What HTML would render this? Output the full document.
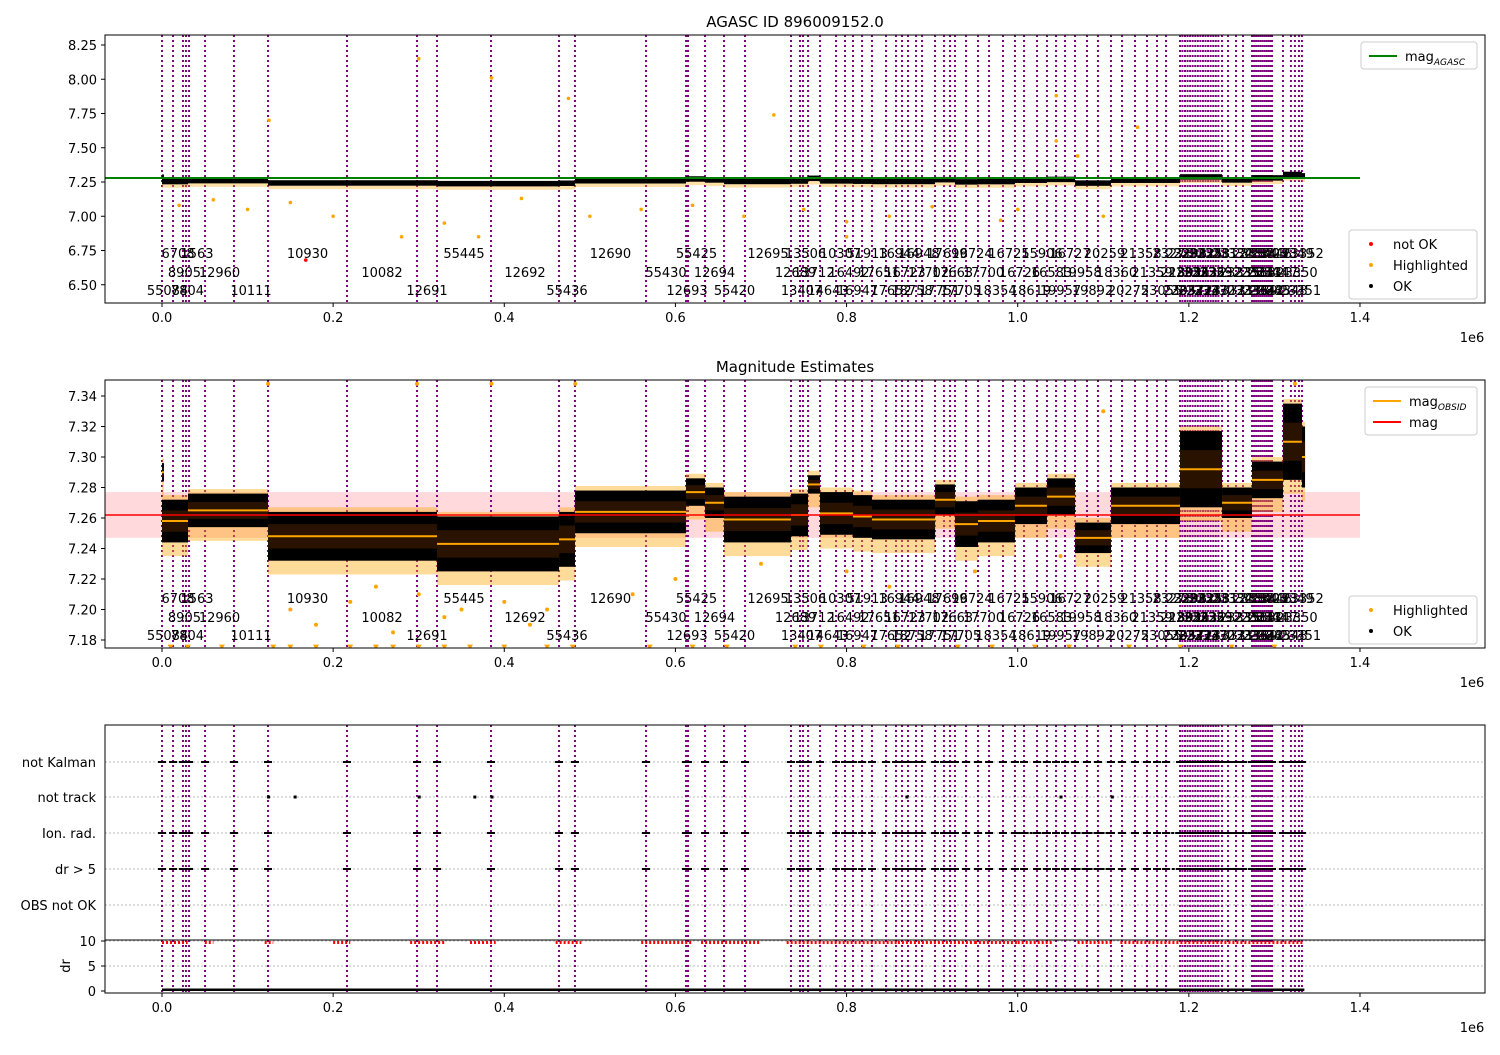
<!DOCTYPE html>
<html><head><meta charset="utf-8"><style>
body{margin:0;background:#fff;}
svg text{font-family:"DejaVu Sans","Liberation Sans",sans-serif;fill:#000;}
</style></head><body>
<svg id="c" width="1500" height="1050" xmlns="http://www.w3.org/2000/svg"></svg>
<script>
const obsStart=[0.0000,0.0129,0.0245,0.0280,0.0316,0.0503,0.0841,0.1239,0.2162,0.2980,0.3214,0.3845,0.4640,0.4826,0.5656,0.6124,0.6147,0.6346,0.6568,0.6813,0.7351,0.7456,0.7491,0.7550,0.7690,0.7877,0.7982,0.8075,0.8181,0.8297,0.8461,0.8578,0.8648,0.8718,0.8812,0.8882,0.9034,0.9139,0.9209,0.9267,0.9396,0.9536,0.9665,0.9828,0.9968,1.0074,1.0226,1.0342,1.0448,1.0553,1.0670,1.0810,1.0938,1.1090,1.1219,1.1371,1.1511,1.1628,1.1733,1.1897,1.1925,1.1955,1.1985,1.2015,1.2045,1.2075,1.2105,1.2135,1.2165,1.2195,1.2225,1.2255,1.2285,1.2315,1.2345,1.2388,1.2458,1.2551,1.2633,1.2738,1.2762,1.2786,1.2810,1.2834,1.2858,1.2882,1.2906,1.2930,1.2954,1.2972,1.3100,1.3193,1.3240,1.3287,1.3322];
const obsLabel=["55084","6708","8905","7804","1563","12960","10111","10930","10082","12691","55445","12692","55436","12690","55430","12693","55425","12694","55420","12695","12689","13407","13506","13712","14643","10307","16492","16947","51913","17651","17652","16944","16723","18758","16948","17702","17751","17699","17663","17705","16724","17700","18354","16725","16726","18619","15906","16583","19957","16727","19958","19892","20259","18360","20275","21358","21359","23055","23273","21892","23057","23296","23056","23321","23322","23323","23324","23325","23326","23327","23328","23329","23330","23331","23332","23333","23334","23335","23336","23337","23338","23339","23340","23341","23342","23343","23344","23345","23346","23347","23348","23349","23350","23351","23352"];
const segStart=[0.0000,0.0000,0.0304,0.1239,0.3214,0.4640,0.4826,0.6124,0.6346,0.6568,0.7351,0.7550,0.7690,0.8075,0.8297,0.9034,0.9267,0.9536,0.9968,1.0342,1.0670,1.1090,1.1897,1.2388,1.2738,1.3100,1.3322];
const segEnd=[0.0023,0.0304,0.1239,0.3214,0.4640,0.4826,0.6124,0.6346,0.6568,0.7351,0.7550,0.7690,0.8075,0.8297,0.9034,0.9267,0.9536,0.9968,1.0342,1.0670,1.1090,1.1897,1.2388,1.2738,1.3100,1.3322,1.3358];
const segMean=[7.290,7.258,7.265,7.248,7.243,7.246,7.264,7.277,7.270,7.259,7.262,7.282,7.263,7.261,7.259,7.272,7.256,7.258,7.268,7.274,7.247,7.268,7.292,7.270,7.285,7.310,7.300];
const segHalf=[0.006,0.014,0.011,0.016,0.018,0.018,0.014,0.009,0.010,0.015,0.014,0.006,0.014,0.014,0.013,0.010,0.015,0.014,0.012,0.012,0.010,0.012,0.025,0.010,0.012,0.025,0.020];
const magAgasc=7.279, magMean=7.262, magBandLo=7.247, magBandHi=7.277;
const p1HiT=[0.300,0.385,0.475,0.715,1.045,1.045,1.140,0.125,1.070,0.020,0.100,0.060,0.200,0.330,0.500,0.560,0.680,0.750,0.800,0.850,0.980,1.000,1.100,0.280,0.370,0.800,0.150,0.420,0.620,0.900];
const p1HiM=[8.15,8.01,7.86,7.74,7.88,7.55,7.65,7.70,7.44,7.08,7.05,7.12,7.00,6.95,7.00,7.05,7.00,7.05,6.96,7.00,6.97,7.05,7.00,6.85,6.85,6.85,7.10,7.13,7.08,7.07];
const p1BadT=[0.168], p1BadM=[6.68];
const p2HiT=[0.124,0.298,0.385,0.483,1.324,0.22,0.30,0.35,0.25,0.45,0.55,0.80,0.85,1.10,0.18,0.40,0.60,0.70,0.95,1.05,0.15,0.27,0.33,0.43];
const p2HiM=[7.348,7.348,7.348,7.348,7.348,7.205,7.210,7.200,7.215,7.200,7.210,7.225,7.215,7.330,7.190,7.205,7.220,7.230,7.225,7.235,7.200,7.185,7.195,7.190];
const p2LowT=[0.01,0.03,0.07,0.13,0.15,0.18,0.22,0.25,0.27,0.30,0.33,0.36,0.40,0.45,0.48,0.57,0.62,0.66,0.74,0.77,0.82,0.86,0.93,0.97,1.02,1.06,1.13,1.19,1.25,1.30];
const cats=["not Kalman","not track","Ion. rad.","dr > 5","OBS not OK"];
const notTrackT=[0.124,0.155,0.300,0.365,0.385,0.870,1.050,1.110];
const kalmanRunS=[1.19], kalmanRunE=[1.30];
const ionRunS=[1.00,1.07,1.17], ionRunE=[1.03,1.11,1.30];
const drRunS=[1.07,1.18], drRunE=[1.11,1.30];
const redRunS=[0.00,0.05,0.12,0.20,0.29,0.36,0.46,0.56,0.63,0.73,0.86,0.95,1.00,1.07,1.12];
const redRunE=[0.03,0.06,0.13,0.22,0.33,0.39,0.49,0.62,0.70,0.86,0.95,1.00,1.04,1.11,1.335];
const xTicks=[0,0.2,0.4,0.6,0.8,1.0,1.2,1.4];
const y1Ticks=[6.50,6.75,7.00,7.25,7.50,7.75,8.00,8.25];
const y2Ticks=[7.18,7.20,7.22,7.24,7.26,7.28,7.30,7.32,7.34];
const drTicks=[0,5,10];

const svg=document.getElementById('c');const NS='http://www.w3.org/2000/svg';
function mk(tag,at,parent,txt){const e=document.createElementNS(NS,tag);for(const k in at)e.setAttribute(k,at[k]);if(txt!==undefined)e.textContent=txt;(parent||svg).appendChild(e);return e;}
const L=105,R=1485;
const X=t=>162+t*855.7;
const Y1=m=>182-(m-7.25)*137;
const Y2=m=>396+(7.34-m)*1525;
const Yd=v=>991-v*5;
const catY=[762,797,833,869,905];
const panels=[{n:'magnitude-panel',t:35,b:303},{n:'estimates-panel',t:380,b:648},{n:'flags-panel',t:725,b:993}];
panels.forEach((p,pi)=>{
  const g=mk('g',{});
  const cid='clip'+pi;const cp=mk('clipPath',{id:cid},g);mk('rect',{x:L,y:p.t,width:R-L,height:p.b-p.t},cp);
  p.g=g;p.cg=mk('g',{'clip-path':'url(#'+cid+')'},g);
});
// panel 1
(function(){const p=panels[0],cg=p.cg;
 mk('text',{x:795,y:27,'font-size':15,'text-anchor':'middle'},p.g,'AGASC ID 896009152.0');
 obsStart.forEach(t=>{const l=mk('line',{x1:X(t),x2:X(t),y1:p.t,y2:p.b,stroke:'#800080','stroke-width':2,'stroke-dasharray':'2,3'},cg);});
 segMean.forEach((m,i)=>{const r=mk('rect',{x:X(segStart[i]),width:Math.max(1,X(segEnd[i])-X(segStart[i])),y:Y1(m-0.02),height:Y1(m-0.05)-Y1(m-0.02),fill:'orange',opacity:0.35},cg);
  const b=mk('rect',{x:X(segStart[i]),width:Math.max(1,X(segEnd[i])-X(segStart[i])),y:Y1(m+0.015),height:Y1(m-0.025)-Y1(m+0.015),fill:'#000'},cg);});
 const gl=mk('line',{x1:L,x2:X(1.4),y1:Y1(magAgasc),y2:Y1(magAgasc),stroke:'green','stroke-width':2},cg);
 p1HiT.forEach((t,i)=>{const c=mk('circle',{cx:X(t),cy:Y1(p1HiM[i]),r:1.8,fill:'orange'},cg);});
 p1BadT.forEach((t,i)=>{const c=mk('circle',{cx:X(t),cy:Y1(p1BadM[i]),r:1.8,fill:'red'},cg);});
 y1Ticks.forEach(v=>{mk('line',{x1:L-4,x2:L,y1:Y1(v),y2:Y1(v),stroke:'#000'},p.g);mk('text',{x:L-8,y:Y1(v)+5,'font-size':13,'text-anchor':'end'},p.g,v.toFixed(2));});
})();
// panel 2
(function(){const p=panels[1],cg=p.cg;
 mk('text',{x:795,y:372,'font-size':15,'text-anchor':'middle'},p.g,'Magnitude Estimates');
 const bd=mk('rect',{x:L,width:X(1.4)-L,y:Y2(magBandHi),height:Y2(magBandLo)-Y2(magBandHi),fill:'#ffd9dc'},cg);
 obsStart.forEach(t=>{const l=mk('line',{x1:X(t),x2:X(t),y1:p.t,y2:p.b,stroke:'#800080','stroke-width':2,'stroke-dasharray':'2,3'},cg);});
 segMean.forEach((m,i)=>{const x=X(segStart[i]),w=Math.max(1,X(segEnd[i])-X(segStart[i]));const h=segHalf[i];
  const r=mk('rect',{x:x,width:w,y:Y2(m+h+0.003),height:Y2(m-h-0.009)-Y2(m+h+0.003),fill:'orange',opacity:0.4},cg);
  const b=mk('rect',{x:x,width:w,y:Y2(m+h),height:Y2(m-h)-Y2(m+h),fill:'#000'},cg);
  const b2=mk('rect',{x:x,width:w,y:Y2(m+h*0.5),height:Y2(m-h*0.5)-Y2(m+h*0.5),fill:'#2a1200'},cg);
  const o=mk('line',{x1:x,x2:x+w,y1:Y2(m),y2:Y2(m),stroke:'orange','stroke-width':2},cg);});
 const rl=mk('line',{x1:L,x2:X(1.4),y1:Y2(magMean),y2:Y2(magMean),stroke:'red','stroke-width':1.5},cg);
 p2HiT.forEach((t,i)=>{const c=mk('circle',{cx:X(t),cy:Y2(p2HiM[i]),r:2,fill:'orange'},cg);});
 p2LowT.forEach(t=>{const y=Y2(7.175);const c=mk('polygon',{points:`${X(t)-3},${y-3} ${X(t)+3},${y-3} ${X(t)},${y+2}`,fill:'orange'},cg);});
 y2Ticks.forEach(v=>{mk('line',{x1:L-4,x2:L,y1:Y2(v),y2:Y2(v),stroke:'#000'},p.g);mk('text',{x:L-8,y:Y2(v)+5,'font-size':13,'text-anchor':'end'},p.g,v.toFixed(2));});
})();
// labels in panels 1 & 2
[[258,277,295],[603,622,640]].forEach((rows,pi)=>{const g=panels[pi].g;
 obsStart.forEach((t,i)=>{const e=(i+1<obsStart.length)?obsStart[i+1]:1.335;const tx=mk('text',{x:X((t+e)/2),y:rows[(i+2)%3],'font-size':13,'text-anchor':'middle'},g,obsLabel[i]);});});
// panel 3
(function(){const p=panels[2],cg=p.cg;
 catY.forEach((y,i)=>{mk('line',{x1:L,x2:R,y1:y,y2:y,stroke:'#bbb','stroke-dasharray':'2,2'},cg);mk('text',{x:L-9,y:y+5,'font-size':13,'text-anchor':'end'},p.g,cats[i]);});
 drTicks.forEach(v=>{if(v>0)mk('line',{x1:L,x2:R,y1:Yd(v),y2:Yd(v),stroke:'#bbb','stroke-dasharray':'2,2'},cg);mk('line',{x1:L-4,x2:L,y1:Yd(v),y2:Yd(v),stroke:'#000'},p.g);mk('text',{x:L-9,y:Yd(v)+5,'font-size':13,'text-anchor':'end'},p.g,String(v));});
 obsStart.forEach(t=>{const l=mk('line',{x1:X(t),x2:X(t),y1:p.t,y2:p.b,stroke:'#800080','stroke-width':2,'stroke-dasharray':'2,3'},cg);
  [0,2,3].forEach(ci=>{const r=mk('rect',{x:X(t)-4,y:catY[ci]-1,width:8,height:2,fill:'#000'},cg);});});
 notTrackT.forEach(t=>{const r=mk('rect',{x:X(t)-1,y:catY[1]-1.5,width:3,height:3,fill:'#000'},cg);});
 [[kalmanRunS,kalmanRunE,0],[ionRunS,ionRunE,2],[drRunS,drRunE,3]].forEach(([s,e,ci])=>s.forEach((v,i)=>{const l=mk('line',{x1:X(v),x2:X(e[i]),y1:catY[ci],y2:catY[ci],stroke:'#000','stroke-width':2,'stroke-dasharray':'3,1'},cg);}));
 const hl=mk('line',{x1:L,x2:R,y1:940,y2:940,stroke:'#000','stroke-width':1},p.g);
 redRunS.forEach((s,i)=>{const l=mk('line',{x1:X(s),x2:X(redRunE[i]),y1:Yd(9.7),y2:Yd(9.7),stroke:'red','stroke-width':3,'stroke-dasharray':'2,2'},cg);});
 const db=mk('rect',{x:X(0),width:X(1.335)-X(0),y:Yd(0.5),height:Yd(0)-Yd(0.5),fill:'#000'},cg);
 mk('text',{x:0,y:0,'font-size':13,'text-anchor':'middle',transform:'translate(70,966) rotate(-90)'},p.g,'dr');
})();
// frames & x ticks
panels.forEach(p=>{mk('rect',{x:L,y:p.t,width:R-L,height:p.b-p.t,fill:'none',stroke:'#000'},p.g);
 xTicks.forEach(v=>{mk('line',{x1:X(v),x2:X(v),y1:p.b,y2:p.b+4,stroke:'#000'},p.g);mk('text',{x:X(v),y:p.b+19,'font-size':13,'text-anchor':'middle'},p.g,v.toFixed(1));});
 mk('text',{x:1472,y:p.b+39,'font-size':13,'text-anchor':'middle'},p.g,'1e6');});
// legends
function legend(x,y,w,items,name){const g=mk('g',{});
 mk('rect',{x:x,y:y,width:w,height:items.length*21+6,rx:3,fill:'#fff',stroke:'#ccc','fill-opacity':0.85},g);
 items.forEach((it,i)=>{const cy=y+14+i*21;if(it[1]==='line')mk('line',{x1:x+8,x2:x+36,y1:cy,y2:cy,stroke:it[0],'stroke-width':2},g);else mk('circle',{cx:x+22,cy:cy,r:2,fill:it[0]},g);
  const t=mk('text',{x:x+44,y:cy+5,'font-size':13},g,it[2]);if(it[3]){mk('tspan',{'font-size':9,dy:4,'font-style':'italic'},t,it[3]);}});}
legend(1361,42,116,[['green','line','mag','AGASC']],'legend-agasc');
legend(1349,230,128,[['red','dot','not OK'],['orange','dot','Highlighted'],['#000','dot','OK']],'legend-points-1');
legend(1365,387,112,[['orange','line','mag','OBSID'],['red','line','mag']],'legend-estimates');
legend(1349,596,128,[['orange','dot','Highlighted'],['#000','dot','OK']],'legend-points-2');
</script>
</body></html>
